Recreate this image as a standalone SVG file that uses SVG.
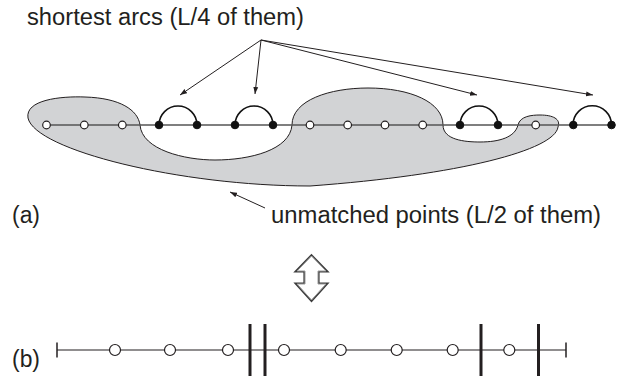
<svg xmlns="http://www.w3.org/2000/svg" width="618" height="376" viewBox="0 0 618 376">
<style>
text{font-family:"Liberation Sans",Arial,sans-serif;font-size:23.5px;fill:#231f20}
.open{fill:#fff;stroke:#231f20;stroke-width:1.2}
.fill{fill:#111;stroke:#111;stroke-width:1}
.arc{fill:none;stroke:#111;stroke-width:1.6}
.ptr{fill:none;stroke:#231f20;stroke-width:1}
.bar{stroke:#231f20;stroke-width:3}
</style>
<defs>
<marker id="ah" viewBox="0 0 10 10" refX="10" refY="5" markerWidth="7" markerHeight="7" markerUnits="userSpaceOnUse" orient="auto">
<path d="M0,1.5 L10,5 L0,8.5 Z" fill="#231f20"/>
</marker>
<polygon id="dbl" points="311.5,256 326,271 318,271 318,284 326,284 311.5,300 297,284 305,284 305,271 297,271"/>
</defs>
<g id="region">
<path d="M28,118 C25,100 60,96 85,97 C120,98 138,110 140,125 C142,150 185,160 215,160 C250,160 290,150 292,125 C292,100 330,88 368,88 C410,88 443,102 443,125 C443,140 465,142 480,142 C500,142 515,137 518,125 C520,116 532,115 540,115 C553,115 561,119 558,127 C555,150 460,175 310,186 C180,186 35,150 28,118 Z" fill="#d2d3d5" stroke="#231f20" stroke-width="1"/>
</g>
<g id="chain-a">
<line x1="46" y1="125" x2="613" y2="125" stroke="#555" stroke-width="1.3"/>
<path class="arc" d="M159,125 A19,19 0 0 1 197,125"/>
<path class="arc" d="M235,125 A19,19 0 0 1 273,125"/>
<path class="arc" d="M460,125 A19,19 0 0 1 498,125"/>
<path class="arc" d="M573,125 A19,19 0 0 1 611.5,125"/>
<circle class="open" cx="46.5" cy="125" r="3.8"/>
<circle class="open" cx="84.3" cy="125" r="3.8"/>
<circle class="open" cx="122.3" cy="125" r="3.8"/>
<circle class="fill" cx="159" cy="125" r="3.8"/>
<circle class="fill" cx="197" cy="125" r="3.8"/>
<circle class="fill" cx="235" cy="125" r="3.8"/>
<circle class="fill" cx="273" cy="125" r="3.8"/>
<circle class="open" cx="310" cy="125" r="3.8"/>
<circle class="open" cx="347.7" cy="125" r="3.8"/>
<circle class="open" cx="385" cy="125" r="3.8"/>
<circle class="open" cx="422.7" cy="125" r="3.8"/>
<circle class="fill" cx="460" cy="125" r="3.8"/>
<circle class="fill" cx="498" cy="125" r="3.8"/>
<circle class="open" cx="535.7" cy="125" r="3.8"/>
<circle class="fill" cx="573.3" cy="125" r="3.8"/>
<circle class="fill" cx="611.5" cy="125" r="3.8"/>
</g>
<g id="connectors">
<line class="ptr" x1="261" y1="40" x2="180" y2="95" marker-end="url(#ah)"/>
<line class="ptr" x1="261" y1="40" x2="255" y2="94" marker-end="url(#ah)"/>
<line class="ptr" x1="261" y1="40" x2="477" y2="95" marker-end="url(#ah)"/>
<line class="ptr" x1="261" y1="40" x2="593" y2="95" marker-end="url(#ah)"/>
<line class="ptr" x1="265" y1="208" x2="230" y2="192" marker-end="url(#ah)"/>
</g>
<g id="labels">
<text x="27" y="25" textLength="277" lengthAdjust="spacingAndGlyphs">shortest arcs (L/4 of them)</text>
<text x="12" y="223" textLength="28" lengthAdjust="spacingAndGlyphs">(a)</text>
<text x="271" y="223" textLength="330" lengthAdjust="spacingAndGlyphs">unmatched points (L/2 of them)</text>
<text x="12" y="367" textLength="28" lengthAdjust="spacingAndGlyphs">(b)</text>
</g>
<g id="double-arrow">
<use href="#dbl" fill="#fff" stroke="#3c3c3c" stroke-width="3.2" stroke-linejoin="miter"/>
<use href="#dbl" fill="#fff" stroke="#9a9a9a" stroke-width="1" stroke-linejoin="miter"/>
</g>
<g id="chain-b">
<line x1="57" y1="350" x2="566" y2="350" stroke="#231f20" stroke-width="1.2"/>
<line x1="57" y1="342.5" x2="57" y2="357.5" stroke="#231f20" stroke-width="1.5"/>
<line x1="566" y1="342.5" x2="566" y2="357.5" stroke="#231f20" stroke-width="1.5"/>
<line class="bar" x1="250" y1="324" x2="250" y2="376"/>
<line class="bar" x1="265" y1="324" x2="265" y2="376"/>
<line class="bar" x1="481" y1="324" x2="481" y2="376"/>
<line class="bar" x1="538.5" y1="324" x2="538.5" y2="376"/>
<circle class="open" cx="115" cy="350" r="5.5"/>
<circle class="open" cx="170" cy="350" r="5.5"/>
<circle class="open" cx="228" cy="350" r="5.5"/>
<circle class="open" cx="284" cy="350" r="5.5"/>
<circle class="open" cx="340.7" cy="350" r="5.5"/>
<circle class="open" cx="396.7" cy="350" r="5.5"/>
<circle class="open" cx="452.7" cy="350" r="5.5"/>
<circle class="open" cx="509.3" cy="350" r="5.5"/>
</g>
</svg>
